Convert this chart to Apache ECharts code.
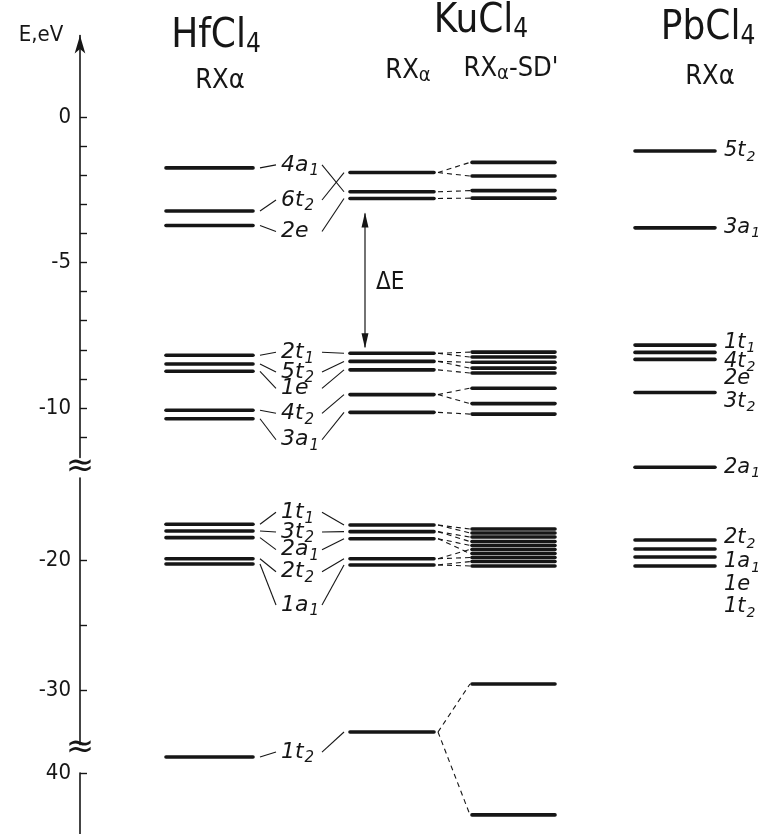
<!DOCTYPE html>
<html><head><meta charset="utf-8">
<script src="https://cdn.jsdelivr.net/npm/echarts@6/dist/echarts.min.js"></script>
<style>html,body{margin:0;padding:0;background:#fff}#c{width:777px;height:834px}</style>
</head><body><div id="c"></div>
<script>
// ---------------- DATA (energies in eV) ----------------
const hfEnergies   = [-1.75, -3.23, -3.73, -8.19, -8.49, -8.74, -10.08, -10.37, -17.25, -17.77, -18.28, -19.90, -20.31, -38.77];
const hfLabels     = ['4a1', '6t2', '2e', '2t1', '5t2', '1e', '4t2', '3a1', '1t1', '3t2', '2a1', '2t2', '1a1', '1t2'];
const kuRXaEnergies = [-1.91, -2.57, -2.80, -8.12, -8.40, -8.69, -9.54, -10.15, -17.31, -17.82, -18.36, -19.90, -20.38, -33.23];
const kuSDEnergies  = [-1.56, -2.03, -2.53, -2.79, -8.08, -8.25, -8.43, -8.63, -8.80, -9.32, -9.85, -10.21,
                       -17.62, -17.92, -18.23, -18.58, -18.88, -19.19, -19.50, -19.81, -20.12, -20.46, -29.54, -43.23];
const pbEnergies   = [-1.17, -3.81, -7.84, -8.09, -8.33, -9.47, -12.87, -18.46, -19.15, -19.77, -20.46];
const pbLabels     = ['5t2', '3a1', '1t1', '4t2', '2e', '3t2', '2a1', '2t2', '1a1', '1e', '1t2'];
// HfCl4 label i points to KuCl4 RXα level hfToKu[i]
const hfToKu = [1, 0, 2, 3, 4, 5, 6, 7, 8, 9, 10, 11, 12, 13];
// KuCl4 RXα level -> KuCl4 RXα-SD' level correlations
const kuCorrelations = [[0,0],[0,1],[1,2],[2,3],
  [3,4],[3,5],[4,6],[4,7],[5,8],[6,9],[6,10],[7,11],
  [8,12],[8,13],[9,14],[9,15],[10,16],[10,18],[11,17],[11,19],[12,20],[12,21],
  [13,22],[13,23]];
const axisLabelValues = [[0, -5, -10], [-20, -30], [-40]];
const axisTickValues  = [[0, -1, -2, -3, -4, -5, -6, -7, -8, -9, -10, -11], [-20, -25, -30], [-40]];

// ---------------- LAYOUT (pixels / styles) ----------------
const COLS = [[166, 253], [350, 434], [472, 555], [635, 715]]; // hf, kuA, kuS, pb
const SEGS = [
  {min: -11.7, max: 2.8,  top: 35.5,  ppe: 29.1},
  {min: -34.2, max: -13.7, top: 478.1, ppe: 13},
  {min: -44.7, max: -40,  top: 773,   ppe: 13}
];
function segOf(e) { return e > -12.3 ? 0 : (e >= -36 ? 1 : 2); }
const hfLabelDy = [-3, -11, 6, -3, 8, 17, 3, 21, -12, 1, 12, 13, 41, -5];
const pbLabelDy = [0, 0, -3, 9, 19, 9, 0, -2, 13, 28, 41];
const INK = '#161616';
const NARROW = "'Liberation Sans Narrow','DejaVu Sans Condensed',sans-serif";
const LBLFONT = "'DejaVu Sans',sans-serif";

const chart = echarts.init(document.getElementById('c'), null, {renderer: 'canvas'});

const grids = SEGS.map(s => ({left: 0, right: 0, top: s.top, height: (s.max - s.min) * s.ppe}));
const xAxes = SEGS.map((s, g) => ({type: 'value', gridIndex: g, min: 0, max: 777, show: false}));
const yAxes = SEGS.map((s, g) => ({
  type: 'value', gridIndex: g, min: s.min, max: s.max, position: 'left', offset: -80,
  axisLine: {show: true, onZero: false, symbol: g === 0 ? ['none', 'arrow'] : 'none', symbolSize: [8, 18],
             lineStyle: {color: INK, width: 1.6}},
  axisTick: {show: true, inside: true, length: 7, customValues: axisTickValues[g], lineStyle: {color: INK, width: 1.4}},
  axisLabel: {show: true, customValues: axisLabelValues[g], margin: 9, fontSize: 22, fontFamily: NARROW, color: INK,
              formatter: v => (v === -40 ? '40' : String(v))},
  splitLine: {show: false}
}));

const columnsData = [hfEnergies, kuRXaEnergies, kuSDEnergies, pbEnergies];
const segData = [[], [], []];
columnsData.forEach((arr, ci) => arr.forEach(e => segData[segOf(e)].push([ci, e])));

const series = segData.map((d, g) => ({
  type: 'custom', xAxisIndex: g, yAxisIndex: g, clip: false, silent: true,
  data: d,
  renderItem: function (params, api) {
    const col = COLS[api.value(0)];
    const e = api.value(1);
    const p0 = api.coord([col[0], e]), p1 = api.coord([col[1], e]);
    return {type: 'line', shape: {x1: p0[0], y1: p0[1], x2: p1[0], y2: p1[1]},
            style: {stroke: INK, lineWidth: 3.6, lineCap: 'round'}};
  }
}));

chart.setOption({backgroundColor: '#ffffff', animation: false, grid: grids, xAxis: xAxes, yAxis: yAxes, series: series});

function P(x, e) { return chart.convertToPixel({gridIndex: segOf(e)}, [x, e]); }

const rich = {
  m: {fontSize: 22, fontFamily: LBLFONT, fontStyle: 'italic', fill: INK},
  s: {fontSize: 15, fontFamily: LBLFONT, fontStyle: 'italic', fill: INK, padding: [13, 0, 0, 1]}
};
const richPb = {
  m: {fontSize: 21, fontFamily: LBLFONT, fontStyle: 'italic', fill: INK},
  s: {fontSize: 14, fontFamily: LBLFONT, fontStyle: 'italic', fill: INK, padding: [12, 0, 0, 1]}
};
function orb(t) { return t.length === 3 ? '{m|' + t.slice(0, 2) + '}{s|' + t[2] + '}' : '{m|' + t + '}'; }
function line(x1, y1, x2, y2, dash, w) {
  return {type: 'line', silent: true, shape: {x1, y1, x2, y2},
          style: {stroke: INK, lineWidth: w || 1.1, lineDash: dash ? [5, 4] : null}};
}
function text(x, y, t, opts) {
  return {type: 'text', silent: true, x, y,
          style: Object.assign({text: t, fill: INK, textAlign: 'center', textVerticalAlign: 'middle'}, opts)};
}

const g = [];
// headers
const hdrRich = {
  b: {fontSize: 40, fontFamily: NARROW, fill: INK},
  bs: {fontSize: 26, fontFamily: NARROW, fill: INK, padding: [16, 0, 0, 0]},
  r: {fontSize: 27, fontFamily: NARROW, fill: INK},
  rs: {fontSize: 20, fontFamily: NARROW, fill: INK, padding: [10, 0, 0, 0]}
};
g.push(text(41, 35, 'E,eV', {font: '22px ' + NARROW}));
g.push(text(216, 37, '{b|HfCl}{bs|4}', {rich: hdrRich}));
g.push(text(220, 81, '{r|RXα}', {rich: hdrRich}));
g.push(text(481, 22, '{b|KuCl}{bs|4}', {rich: hdrRich}));
g.push(text(408, 71, '{r|RX}{rs|α}', {rich: hdrRich}));
g.push(text(511, 69, "{r|RX}{rs|α}{r|-SD'}", {rich: hdrRich}));
g.push(text(708, 29, '{b|PbCl}{bs|4}', {rich: hdrRich}));
g.push(text(710, 77, '{r|RXα}', {rich: hdrRich}));

// HfCl4 labels with connectors to KuCl4 RXα levels
hfEnergies.forEach((e, i) => {
  const pL = P(COLS[0][1], e);
  const ly = pL[1] + hfLabelDy[i];
  const pK = P(COLS[1][0], kuRXaEnergies[hfToKu[i]]);
  g.push(line(pL[0] + 7, pL[1], 276, ly));
  g.push(text(281, ly, orb(hfLabels[i]), {rich: rich, textAlign: 'left'}));
  g.push(line(322, ly, pK[0] - 6, pK[1]));
});

// dashed correlations KuCl4 RXα -> RXα-SD'
kuCorrelations.forEach(([a, b]) => {
  const p0 = P(COLS[1][1], kuRXaEnergies[a]);
  const p1 = P(COLS[2][0], kuSDEnergies[b]);
  g.push(line(p0[0] + 4, p0[1], p1[0] - 2, p1[1], true, 1.1));
});

// PbCl4 labels
pbEnergies.forEach((e, i) => {
  const p = P(COLS[3][1], e);
  g.push(text(724, p[1] + pbLabelDy[i], orb(pbLabels[i]), {rich: richPb, textAlign: 'left'}));
});

// ΔE arrow between KuCl4 RXα HOMO-group and LUMO-group
(function () {
  const top = P(365, kuRXaEnergies[2])[1] + 15;
  const bot = P(365, kuRXaEnergies[3])[1] - 6;
  g.push(line(365, top, 365, bot, false, 1.2));
  g.push({type: 'polygon', silent: true, shape: {points: [[365, top - 1], [361.5, top + 14], [368.5, top + 14]]}, style: {fill: INK}});
  g.push({type: 'polygon', silent: true, shape: {points: [[365, bot + 1], [361.5, bot - 14], [368.5, bot - 14]]}, style: {fill: INK}});
  g.push(text(376, (top + bot) / 2 + 2, 'ΔE', {font: '24px ' + NARROW, textAlign: 'left'}));
})();

// axis break marks
g.push(text(80, 467, '≈', {font: '34px ' + LBLFONT}));
g.push(text(80, 748, '≈', {font: '34px ' + LBLFONT}));

chart.setOption({graphic: {elements: g}});
</script>
</body></html>
